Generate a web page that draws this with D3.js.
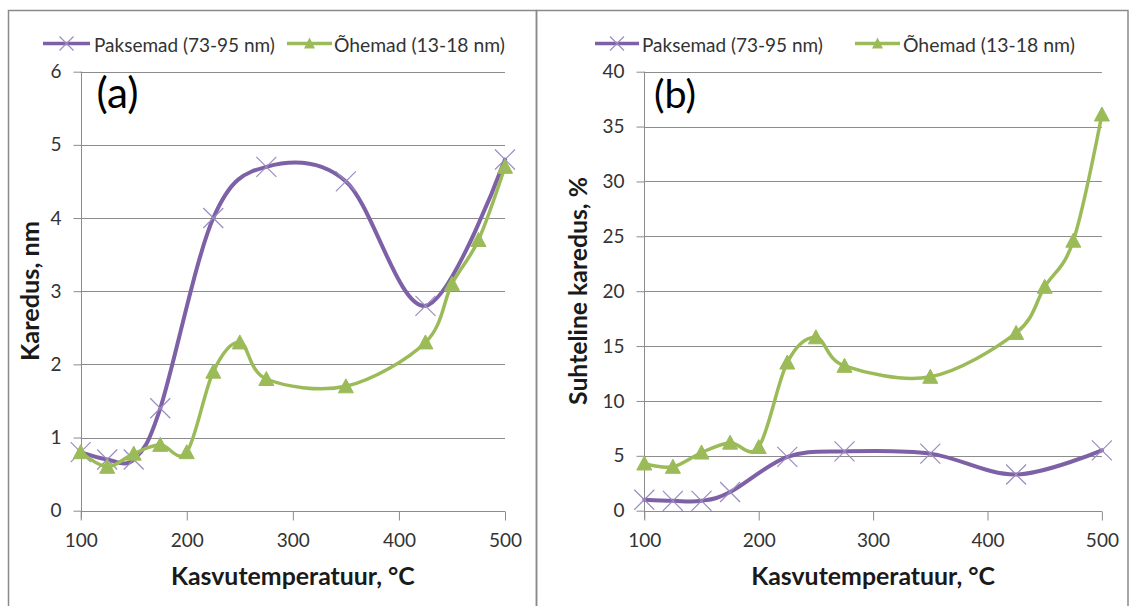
<!DOCTYPE html>
<html>
<head>
<meta charset="utf-8">
<script src="https://cdn.jsdelivr.net/npm/d3@7"></script>
<style>
  html, body { margin: 0; padding: 0; background: #fff; }
  svg { display: block; }
</style>
</head>
<body>
<svg id="chart" width="1133" height="606"></svg>
<script>
// ---------- DATA ----------
const seriesNames = ["Paksemad (73-95 nm)", "Õhemad (13-18 nm)"];
const xTickValues = [100, 200, 300, 400, 500];
const yTicksA = [0, 1, 2, 3, 4, 5, 6];
const yTicksB = [0, 5, 10, 15, 20, 25, 30, 35, 40];

const paksTemps = [100, 125, 150, 175, 225, 275, 350, 425, 500];
const ohemTemps = [100, 125, 150, 175, 200, 225, 250, 275, 350, 425, 450, 475, 500];

// (a) Karedus, nm
const paksA = [0.8, 0.7, 0.7, 1.4, 4.0, 4.7, 4.5, 2.8, 4.8];
const ohemA = [0.8, 0.6, 0.78, 0.9, 0.8, 1.9, 2.3, 1.8, 1.7, 2.3, 3.1, 3.7, 4.7];

// (b) Suhteline karedus, %
const paksB = [1.0, 0.9, 0.9, 1.7, 4.9, 5.4, 5.2, 3.3, 5.5];
const ohemB = [4.3, 4.0, 5.3, 6.2, 5.8, 13.5, 15.8, 13.2, 12.2, 16.2, 20.4, 24.6, 36.1];

const xTitle = "Kasvutemperatuur, °C";
const yTitleA = "Karedus, nm";
const yTitleB = "Suhteline karedus, %";

// ---------- DRAW ----------
const svg = d3.select("#chart");
const FONT = "Lato, 'Open Sans', sans-serif";
const PURPLE = "#7d60a6";
const PURPLE_MK = "#9a8cc0";
const GREEN = "#9bbb59";
const GRID = "#8c8c8c";

function fit(t, w) {
  const cur = t.node().getComputedTextLength();
  const fs = parseFloat(t.attr("font-size"));
  t.attr("font-size", fs * w / cur);
}

// panel borders
svg.append("rect").attr("x", 8.5).attr("y", 10.5).attr("width", 528).attr("height", 610)
  .attr("fill", "none").attr("stroke", "#8a8a8a").attr("stroke-width", 1.5);
svg.append("rect").attr("x", 536.5).attr("y", 10.5).attr("width", 591.5).attr("height", 610)
  .attr("fill", "none").attr("stroke", "#8a8a8a").attr("stroke-width", 1.5);

function drawX(r) {
  return `M${-r},${-r}L${r},${r}M${-r},${r}L${r},${-r}`;
}
function triangle(w, h) {
  return `M0,${-h / 2 - 1}L${w / 2},${h / 2}L${-w / 2},${h / 2}Z`;
}

function drawPanel(cfg) {
  const g = svg.append("g");
  const x = d3.scaleLinear().domain([100, 500]).range(cfg.xr);
  const y = d3.scaleLinear().domain(cfg.yDomain).range([510.7, 71.7]);

  // gridlines
  g.append("g").selectAll("line").data(cfg.yTicks.slice(1)).join("line")
    .attr("x1", cfg.xr[0]).attr("x2", cfg.xr[1])
    .attr("y1", d => Math.round(y(d)) + 0.5).attr("y2", d => Math.round(y(d)) + 0.5)
    .attr("stroke", GRID).attr("stroke-width", 1);

  // y axis
  const ya = g.append("g").attr("transform", `translate(${Math.round(cfg.xr[0]) + 0.5},0)`)
    .call(d3.axisLeft(y).tickValues(cfg.yTicks).tickSize(8).tickPadding(12).tickFormat(d3.format("d")));
  ya.select(".domain").attr("stroke", GRID).attr("d", `M0,${y(cfg.yDomain[1])}V${y(0) + 8}`);
  ya.selectAll(".tick line").attr("stroke", GRID);
  ya.selectAll(".tick text").attr("font-family", FONT).attr("font-size", 19).attr("fill", "#333");

  // x axis
  const xa = g.append("g").attr("transform", `translate(0,${Math.round(y(0)) + 0.5})`)
    .call(d3.axisBottom(x).tickValues(xTickValues).tickSize(9).tickPadding(13).tickFormat(d3.format("d")));
  xa.select(".domain").attr("stroke", GRID).attr("d", `M${cfg.xr[0]},0H${cfg.xr[1]}`);
  xa.selectAll(".tick line").attr("stroke", GRID);
  xa.selectAll(".tick text").attr("font-family", FONT).attr("font-size", 19).attr("fill", "#333");

  const line = d3.line().x(d => x(d[0])).y(d => y(d[1])).curve(d3.curveCatmullRom.alpha(0));

  const pData = cfg.paksTemps.map((t, i) => [t, cfg.paks[i]]);
  const oData = cfg.ohemTemps.map((t, i) => [t, cfg.ohem[i]]);

  // purple series
  g.append("path").attr("d", line(pData)).attr("fill", "none")
    .attr("stroke", PURPLE).attr("stroke-width", 4).attr("stroke-linecap", "round");
  g.append("g").selectAll("path").data(pData).join("path")
    .attr("transform", d => `translate(${x(d[0])},${y(d[1])})`)
    .attr("d", drawX(10))
    .attr("fill", "none").attr("stroke", PURPLE_MK).attr("stroke-width", 1.2);

  // green series
  g.append("path").attr("d", line(oData)).attr("fill", "none")
    .attr("stroke", GREEN).attr("stroke-width", 3.5).attr("stroke-linecap", "round");
  g.append("g").selectAll("path").data(oData).join("path")
    .attr("transform", d => `translate(${x(d[0])},${y(d[1])})`)
    .attr("d", triangle(15, 13))
    .attr("fill", GREEN).attr("stroke", GREEN).attr("stroke-width", 1);

  // panel label
  const pl = g.append("text").attr("x", cfg.labelX).attr("y", 108)
    .attr("font-family", FONT).attr("font-size", 36).attr("fill", "#000").text(cfg.label);
  fit(pl, 42);

  // x title
  const xt = g.append("text").attr("x", (cfg.xr[0] + cfg.xr[1]) / 2).attr("y", 585)
    .attr("text-anchor", "middle").attr("font-family", FONT).attr("font-weight", "bold")
    .attr("font-size", 20).attr("fill", "#1a1a1a").text(xTitle);
  fit(xt, 244);

  // y title
  const yt = g.append("text")
    .attr("transform", `translate(${cfg.yTitleX},291) rotate(-90)`)
    .attr("text-anchor", "middle").attr("dominant-baseline", "central")
    .attr("font-family", FONT).attr("font-weight", "bold")
    .attr("font-size", 20).attr("fill", "#1a1a1a").text(cfg.yTitle);
  fit(yt, cfg.yTitleW);

  // legend
  const lg = g.append("g");
  cfg.legend.forEach((L, i) => {
    const col = i === 0 ? PURPLE : GREEN;
    lg.append("line").attr("x1", L.x1).attr("x2", L.x2).attr("y1", 43.5).attr("y2", 43.5)
      .attr("stroke", col).attr("stroke-width", 3.5);
    if (i === 0) {
      lg.append("path").attr("transform", `translate(${(L.x1 + L.x2) / 2},43.5)`)
        .attr("d", drawX(7)).attr("fill", "none").attr("stroke", PURPLE_MK).attr("stroke-width", 1.2);
    } else {
      lg.append("path").attr("transform", `translate(${(L.x1 + L.x2) / 2},43.5)`)
        .attr("d", triangle(11, 10)).attr("fill", GREEN);
    }
    const t = lg.append("text").attr("x", L.tx).attr("y", 44)
      .attr("dominant-baseline", "central")
      .attr("font-family", FONT).attr("font-size", 16).attr("fill", "#333").text(seriesNames[i]);
    fit(t, L.tw);
  });
}

drawPanel({
  xr: [80.7, 505], yDomain: [0, 6], yTicks: yTicksA,
  paksTemps, ohemTemps, paks: paksA, ohem: ohemA,
  label: "(a)", labelX: 96.5, yTitle: yTitleA, yTitleX: 28.5, yTitleW: 140,
  legend: [{ x1: 43, x2: 90, tx: 94, tw: 181 }, { x1: 287, x2: 332, tx: 334, tw: 171 }]
});
drawPanel({
  xr: [644.3, 1101.9], yDomain: [0, 40], yTicks: yTicksB,
  paksTemps, ohemTemps, paks: paksB, ohem: ohemB,
  label: "(b)", labelX: 654, yTitle: yTitleB, yTitleX: 577, yTitleW: 228,
  legend: [{ x1: 595, x2: 639, tx: 642, tw: 181 }, { x1: 855, x2: 900, tx: 903, tw: 172 }]
});
</script>
</body>
</html>
